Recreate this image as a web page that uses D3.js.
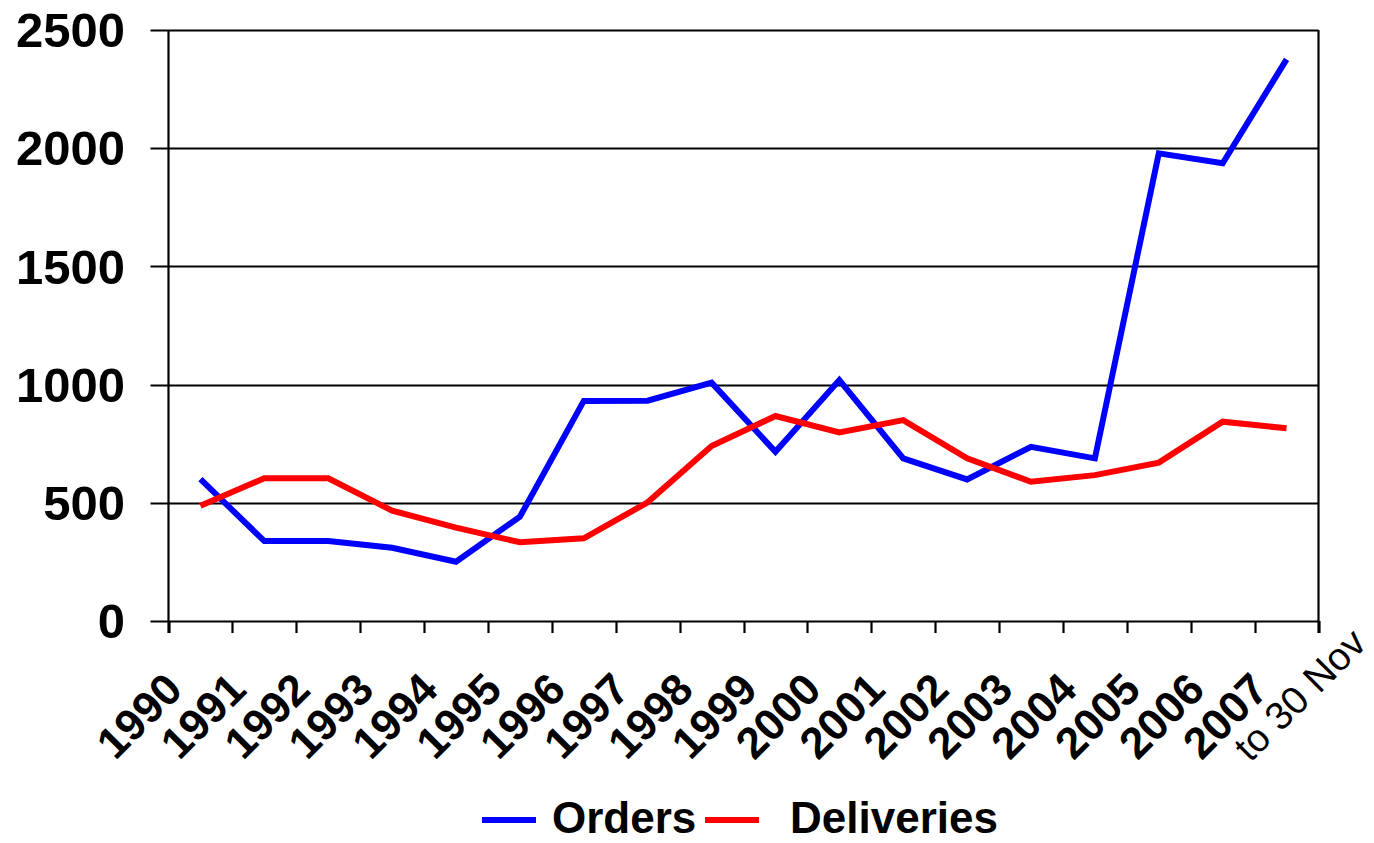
<!DOCTYPE html>
<html>
<head>
<meta charset="utf-8">
<script src="https://cdn.jsdelivr.net/npm/d3@7"></script>
<style>
  html, body { margin: 0; padding: 0; background: #ffffff; }
  svg { display: block; }
  text { font-family: "Liberation Sans", Arial, sans-serif; fill: #000; }
</style>
</head>
<body>
<svg id="chart" width="1374" height="843"></svg>
<script>
// Yearly aircraft orders and deliveries, 1990 to 2007 (2007 up to 30 Nov)
const years = ["1990", "1991", "1992", "1993", "1994", "1995", "1996", "1997", "1998",
               "1999", "2000", "2001", "2002", "2003", "2004", "2005", "2006", "2007"];
const orders = [600, 338, 338, 310, 251, 441, 931, 932, 1008,
                716, 1019, 688, 599, 737, 688, 1978, 1936, 2376];
const deliveries = [488, 604, 604, 467, 395, 333, 350, 502, 740,
                    867, 798, 850, 688, 589, 617, 670, 843, 815];
const yTicks = [0, 500, 1000, 1500, 2000, 2500];
const lastYearNote = "to 30 Nov";
const seriesNames = ["Orders", "Deliveries"];
const seriesColors = ["#0000ff", "#ff0000"];

const svg = d3.select("#chart");
svg.append("rect").attr("width", 1374).attr("height", 843).attr("fill", "#fff");

const plot = { left: 168.5, right: 1318.5, top: 30, bottom: 621 };

const x = d3.scaleBand().domain(years).range([plot.left, plot.right]).padding(0);
const y = d3.scaleLinear().domain([0, 2500]).range([plot.bottom, plot.top]);
const cx = d => x(d) + x.bandwidth() / 2;

// Horizontal gridlines with short outside ticks on the left
svg.append("g")
  .selectAll("line")
  .data(yTicks)
  .join("line")
  .attr("x1", plot.left - 18)
  .attr("x2", plot.right)
  .attr("y1", d => Math.round(y(d)) + 0.5)
  .attr("y2", d => Math.round(y(d)) + 0.5)
  .attr("stroke", "#000")
  .attr("stroke-width", 2.2);

// Value axis labels
svg.append("g")
  .selectAll("text")
  .data(yTicks)
  .join("text")
  .attr("x", 125)
  .attr("y", d => y(d))
  .attr("dy", "0.35em")
  .attr("text-anchor", "end")
  .attr("font-size", 49)
  .attr("font-weight", "bold")
  .text(d => d);

// Left axis and right border
svg.append("line")
  .attr("x1", plot.left).attr("x2", plot.left)
  .attr("y1", plot.top).attr("y2", plot.bottom + 12)
  .attr("stroke", "#000").attr("stroke-width", 2.2);
svg.append("line")
  .attr("x1", plot.right).attr("x2", plot.right)
  .attr("y1", plot.top).attr("y2", plot.bottom + 12)
  .attr("stroke", "#000").attr("stroke-width", 2.2);

// Category tick marks at band boundaries
const boundaries = years.map(d => x(d)).concat([plot.right]);
svg.append("g")
  .selectAll("line")
  .data(boundaries)
  .join("line")
  .attr("x1", d => Math.round(d) + 0.5)
  .attr("x2", d => Math.round(d) + 0.5)
  .attr("y1", plot.bottom)
  .attr("y2", plot.bottom + 12)
  .attr("stroke", "#000")
  .attr("stroke-width", 2.2);

// Rotated year labels
const labels = svg.append("g")
  .selectAll("g")
  .data(years)
  .join("g")
  .attr("transform", d => `translate(${x(d) + 16},${692}) rotate(-45)`);
labels.append("text")
  .attr("text-anchor", "end")
  .attr("font-size", 44)
  .attr("font-weight", "bold")
  .text(d => d);
labels.filter((d, i) => i === years.length - 1)
  .append("text")
  .attr("x", 102)
  .attr("y", 36)
  .attr("text-anchor", "end")
  .attr("font-size", 39)
  .text(lastYearNote);

// Series lines
const line = d3.line()
  .x((d, i) => cx(years[i]))
  .y(d => y(d));

[orders, deliveries].forEach((vals, k) => {
  svg.append("path")
    .datum(vals)
    .attr("d", line)
    .attr("fill", "none")
    .attr("stroke", seriesColors[k])
    .attr("stroke-width", 6)
    .attr("stroke-linejoin", "miter");
});

// Legend
const legendItems = [
  { name: seriesNames[0], color: seriesColors[0], x1: 482, x2: 536, tx: 552 },
  { name: seriesNames[1], color: seriesColors[1], x1: 705, x2: 759, tx: 790 }
];
const legend = svg.append("g");
legendItems.forEach(it => {
  legend.append("line")
    .attr("x1", it.x1).attr("x2", it.x2)
    .attr("y1", 820).attr("y2", 820)
    .attr("stroke", it.color).attr("stroke-width", 6);
  legend.append("text")
    .attr("x", it.tx).attr("y", 833)
    .attr("font-size", 44)
    .attr("font-weight", "bold")
    .text(it.name);
});
</script>
</body>
</html>
